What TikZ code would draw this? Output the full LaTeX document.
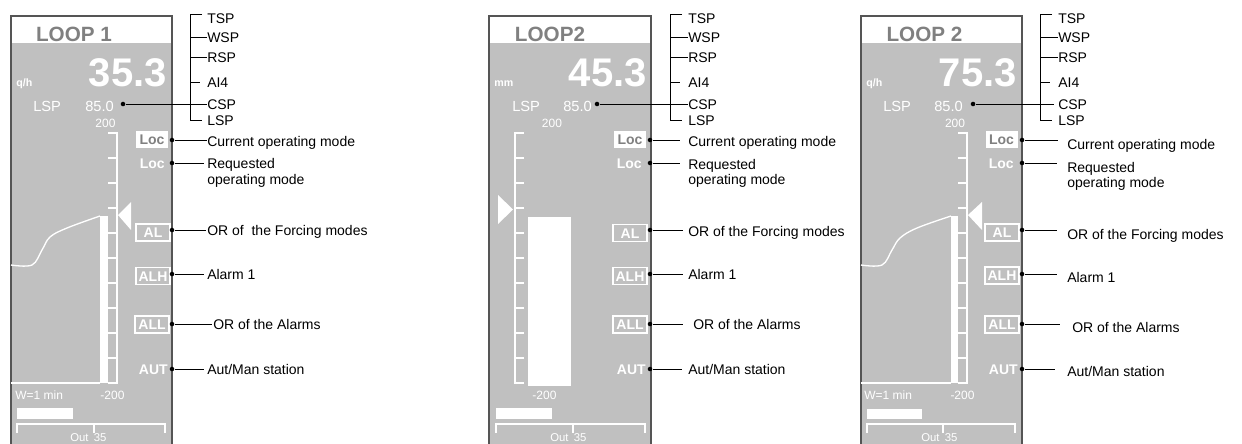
\documentclass[tikz,border=0pt]{standalone}
\usepackage{fontspec}
\setmainfont{Liberation Sans}
\definecolor{panelgray}{HTML}{C0C0C0}
\definecolor{titlegray}{HTML}{808080}
\definecolor{bordergray}{HTML}{555555}
\tikzset{
  panelborder/.style={draw=bordergray, line width=1pt},
  titletxt/.style={font=\fontsize{15.5}{18}\selectfont\bfseries, text=titlegray, inner sep=0pt},
  bignum/.style={font=\fontsize{30}{36}\selectfont\bfseries, text=white, anchor=east, inner sep=0pt},
  unittxt/.style={font=\fontsize{8}{10}\selectfont\bfseries, text=white, anchor=west, inner sep=0pt, text height=5.8pt, text depth=0pt},
  sptxt/.style={font=\fontsize{11}{13}\selectfont, text=white, anchor=west, inner sep=0pt, text height=7.9pt, text depth=0pt},
  smalltxt/.style={font=\fontsize{9}{11}\selectfont, text=white, inner sep=0pt, text height=6.5pt, text depth=0pt},
  outtxt/.style={font=\fontsize{8.5}{10}\selectfont, text=white, anchor=west, inner sep=0pt, text height=6.1pt, text depth=0pt},
  lbl/.style={font=\fontsize{10.5}{12}\selectfont, anchor=west, inner sep=0pt, text height=7.5pt, text depth=0pt},
  dotn/.style={circle, fill=black, inner sep=0pt, minimum size=3.4pt},
  conn/.style={draw=black, line width=0.75pt},
  brk/.style={draw=black, line width=0.75pt},
  locbox/.style={fill=white, inner sep=0pt, minimum width=24pt, minimum height=12.75pt, font=\fontsize{10.5}{12}\selectfont\bfseries, text=titlegray, text height=7.5pt, text depth=0pt},
  albox/.style={draw=white, line width=1.1pt, inner sep=0pt, minimum width=25.5pt, minimum height=12.75pt, font=\fontsize{10.5}{12}\selectfont\bfseries, text=white, text height=7.5pt, text depth=0pt},
  modetxt/.style={font=\fontsize{10.5}{12}\selectfont\bfseries, text=white, anchor=east, inner sep=0pt, text height=7.5pt, text depth=0pt},
  scaleline/.style={draw=white, line width=1.5pt},
  trendln/.style={draw=white, line width=1pt},
  thinw/.style={draw=white, line width=0.8pt},
}
\begin{document}
\begin{tikzpicture}[x=0.75pt,y=-0.75pt]
\useasboundingbox (0,0) rectangle (1242,443);

%================ PANEL 1 =================
\begin{scope}[shift={(11,0)}]
\fill[panelgray] (0,16) rectangle (161,445);
\fill[white] (0,16) rectangle (161,43);
\draw[panelborder] (0,445) -- (0,16) -- (161,16) -- (161,445);
\node[titletxt] (a-title) at (63,34) {LOOP 1};
\node[bignum] (a-pv) at (156,72.5) {35.3};
\node[unittxt] (a-unit) at (5,83) {q/h};
\node[sptxt] (a-lspt) at (22,106) {LSP};
\node[sptxt] (a-spv) at (74,106) {85.0};
\node[smalltxt] (a-max) at (94.5,123) {200};
% bar + scale
\fill[white] (89,216) rectangle (97,383);
\draw[scaleline] (97,133) -- (106,133) -- (106,383) -- (97,383);
\foreach \yy in {158,183,...,358} \draw[scaleline] (97,\yy) -- (106,\yy);
\fill[white] (107,215) -- (120,202) -- (120,230) -- cycle;
% trend
\draw[trendln] plot[smooth, tension=0.6] coordinates {(0,265) (21,265) (31,250) (39,237) (56,228) (89,216)};
\draw[trendln] (0,383) -- (89,383);
\node[smalltxt, anchor=west] (a-win) at (4,395) {W=1 min};
\node[smalltxt] (a-min) at (101.5,395) {-200};
\fill[white] (6,408) rectangle (62,419);
\draw[thinw] (6,433) -- (6,424) -- (154,424) -- (154,433);
\draw[thinw] (83,424) -- (83,433);
\node[outtxt] (a-out) at (59,437.5) {Out\hspace{4pt}35};
% mode boxes
\node[locbox] (a-loc) at (141,139.5) {Loc};
\node[modetxt] (a-loc2) at (154,163) {Loc};
\node[albox] (a-al) at (142,232.5) {AL};
\node[albox] (a-alh) at (142,276) {ALH};
\node[albox] (a-all) at (141,324.5) {ALL};
\node[modetxt] (a-aut) at (157,369) {AUT};
% dots
\node[dotn] (a-dcsp) at (112,104) {};
\node[dotn] (a-d1) at (161,140) {};
\node[dotn] (a-d2) at (161,163) {};
\node[dotn] (a-d3) at (161,230) {};
\node[dotn] (a-d4) at (161,274) {};
\node[dotn] (a-d5) at (161,324) {};
\node[dotn] (a-d6) at (161,369) {};
% setpoint list
\node[lbl] (a-tsp) at (196,18) {TSP};
\node[lbl] (a-wsp) at (196,37) {WSP};
\node[lbl] (a-rsp) at (196,57) {RSP};
\node[lbl] (a-ai4) at (196,82) {AI4};
\node[lbl] (a-csp) at (196,104) {CSP};
\node[lbl] (a-lsp) at (196,120) {LSP};
\draw[brk] (191,14) -- (179,14) -- (179,120) -- (191,120);
\draw[brk] (179,37) -- (a-wsp.west);
\draw[brk] (179,57) -- (a-rsp.west);
\draw[brk] (179,82) -- (189,82);
\draw[conn] (a-dcsp) -- (a-csp.west);
% right labels
\node[lbl] (a-cur) at (196,141) {Current operating mode};
\node[lbl] (a-req) at (196,163) {Requested};
\node[lbl] (a-req2) at (196,179) {operating mode};
\node[lbl] (a-frc) at (196,230) {OR of\ \ the Forcing modes};
\node[lbl] (a-al1) at (196,274) {Alarm 1};
\node[lbl] (a-ora) at (202,324) {OR of the Alarms};
\node[lbl] (a-am) at (196,369) {Aut/Man station};
\draw[conn] (a-d1) -- (a-d1 -| a-cur.west);
\draw[conn, shorten >=2pt] (a-d2) -- (a-d2 -| a-req.west);
\draw[conn, shorten >=1pt] (a-d3) -- (a-d3 -| a-frc.west);
\draw[conn, shorten >=2pt] (a-d4) -- (a-d4 -| a-al1.west);
\draw[conn, shorten >=1pt] (a-d5) -- (a-d5 -| a-ora.west);
\draw[conn, shorten >=2pt] (a-d6) -- (a-d6 -| a-am.west);
\end{scope}

%================ PANEL 2 =================
\begin{scope}[shift={(489,0)}]
\fill[panelgray] (0,16) rectangle (162,445);
\fill[white] (0,16) rectangle (162,43);
\draw[panelborder] (0,445) -- (0,16) -- (162,16) -- (162,445);
\node[titletxt] (b-title) at (61,34) {LOOP2};
\node[bignum] (b-pv) at (158,72.5) {45.3};
\node[unittxt] (b-unit) at (5,83) {mm};
\node[sptxt] (b-lspt) at (23,106) {LSP};
\node[sptxt] (b-spv) at (74,106) {85.0};
\node[smalltxt] (b-max) at (63,123) {200};
% scale + bar
\draw[scaleline] (35,133) -- (26,133) -- (26,383) -- (35,383);
\foreach \yy in {158,183,...,358} \draw[scaleline] (26,\yy) -- (35,\yy);
\fill[white] (39,217) rectangle (82,386);
\fill[white] (9,195) -- (24,209.5) -- (9,224) -- cycle;
\node[smalltxt] (b-min) at (55.5,395) {-200};
\fill[white] (7,408) rectangle (63,419);
\draw[thinw] (7,433) -- (7,424) -- (156,424) -- (156,433);
\draw[thinw] (84,424) -- (84,433);
\node[outtxt] (b-out) at (61,437.5) {Out\hspace{4pt}35};
% mode boxes
\node[locbox] (b-loc) at (141,139.5) {Loc};
\node[modetxt] (b-loc2) at (153,163) {Loc};
\node[albox] (b-al) at (141,233) {AL};
\node[albox] (b-alh) at (141,276) {ALH};
\node[albox] (b-all) at (141,324.5) {ALL};
\node[modetxt] (b-aut) at (157,369) {AUT};
% dots
\node[dotn] (b-dcsp) at (108,104) {};
\node[dotn] (b-d1) at (161,140) {};
\node[dotn] (b-d2) at (161,163) {};
\node[dotn] (b-d3) at (161,230) {};
\node[dotn] (b-d4) at (161,274) {};
\node[dotn] (b-d5) at (161,324) {};
\node[dotn] (b-d6) at (161,369) {};
% setpoint list
\node[lbl] (b-tsp) at (199,18) {TSP};
\node[lbl] (b-wsp) at (199,37) {WSP};
\node[lbl] (b-rsp) at (199,57) {RSP};
\node[lbl] (b-ai4) at (199,82) {AI4};
\node[lbl] (b-csp) at (199,104) {CSP};
\node[lbl] (b-lsp) at (199,120) {LSP};
\draw[brk] (193,14) -- (181,14) -- (181,120) -- (193,120);
\draw[brk] (181,37) -- (b-wsp.west);
\draw[brk] (181,57) -- (b-rsp.west);
\draw[brk] (181,82) -- (191,82);
\draw[conn] (b-dcsp) -- (b-csp.west);
% right labels
\node[lbl] (b-cur) at (199,141) {Current operating mode};
\node[lbl] (b-req) at (199,164) {Requested};
\node[lbl] (b-req2) at (199,179) {operating mode};
\node[lbl] (b-frc) at (199,231) {OR of the Forcing modes};
\node[lbl] (b-al1) at (199,274) {Alarm 1};
\node[lbl] (b-ora) at (204,324) {OR of the Alarms};
\node[lbl] (b-am) at (199,369) {Aut/Man station};
\draw[conn, shorten >=6pt] (b-d1) -- (b-d1 -| b-cur.west);
\draw[conn, shorten >=6pt] (b-d2) -- (b-d2 -| b-req.west);
\draw[conn, shorten >=4pt] (b-d3) -- (b-d3 -| b-frc.west);
\draw[conn, shorten >=4pt] (b-d4) -- (b-d4 -| b-al1.west);
\draw[conn, shorten >=7.5pt] (b-d5) -- (b-d5 -| b-ora.west);
\draw[conn, shorten >=4.5pt] (b-d6) -- (b-d6 -| b-am.west);
\end{scope}

%================ PANEL 3 =================
\begin{scope}[shift={(861,0)}]
\fill[panelgray] (0,16) rectangle (161,445);
\fill[white] (0,16) rectangle (161,43);
\draw[panelborder] (0,445) -- (0,16) -- (161,16) -- (161,445);
\node[titletxt] (c-title) at (63.5,34) {LOOP 2};
\node[bignum] (c-pv) at (156,72.5) {75.3};
\node[unittxt] (c-unit) at (5,83) {q/h};
\node[sptxt] (c-lspt) at (22,106) {LSP};
\node[sptxt] (c-spv) at (73,106) {85.0};
\node[smalltxt] (c-max) at (94,123) {200};
% bar + scale
\fill[white] (90,216) rectangle (97,383);
\draw[scaleline] (97,133) -- (106,133) -- (106,383) -- (97,383);
\foreach \yy in {158,183,...,358} \draw[scaleline] (97,\yy) -- (106,\yy);
\fill[white] (107,215) -- (121,202) -- (121,230) -- cycle;
% trend
\draw[trendln] plot[smooth, tension=0.6] coordinates {(0,265) (21,265) (31,250) (39,238) (56,228) (90,216)};
\draw[trendln] (0,383) -- (90,383);
\node[smalltxt, anchor=west] (c-win) at (3,395) {W=1 min};
\node[smalltxt] (c-min) at (101.5,395) {-200};
\fill[white] (6,409) rectangle (61,419);
\draw[thinw] (6,433) -- (6,424) -- (154,424) -- (154,433);
\draw[thinw] (82,424) -- (82,433);
\node[outtxt] (c-out) at (60,437.5) {Out\hspace{4pt}35};
% mode boxes
\node[locbox] (c-loc) at (140.5,139.5) {Loc};
\node[modetxt] (c-loc2) at (153,163) {Loc};
\node[albox] (c-al) at (141,232.5) {AL};
\node[albox] (c-alh) at (141,275.5) {ALH};
\node[albox] (c-all) at (141,324.5) {ALL};
\node[modetxt] (c-aut) at (157,369) {AUT};
% dots
\node[dotn] (c-dcsp) at (112,104) {};
\node[dotn] (c-d1) at (161,140) {};
\node[dotn] (c-d2) at (161,163) {};
\node[dotn] (c-d3) at (161,230) {};
\node[dotn] (c-d4) at (161,274) {};
\node[dotn] (c-d5) at (161,324) {};
\node[dotn] (c-d6) at (161,369) {};
% setpoint list
\node[lbl] (c-tsp) at (197,18) {TSP};
\node[lbl] (c-wsp) at (197,37) {WSP};
\node[lbl] (c-rsp) at (197,57) {RSP};
\node[lbl] (c-ai4) at (197,82) {AI4};
\node[lbl] (c-csp) at (197,104) {CSP};
\node[lbl] (c-lsp) at (197,120) {LSP};
\draw[brk] (191,14) -- (179,14) -- (179,120) -- (191,120);
\draw[brk] (179,37) -- (c-wsp.west);
\draw[brk] (179,57) -- (c-rsp.west);
\draw[brk] (179,82) -- (189,82);
\draw[conn, shorten >=3pt] (c-dcsp) -- (c-csp.west);
% right labels
\node[lbl] (c-cur) at (206,144) {Current operating mode};
\node[lbl] (c-req) at (206,167) {Requested};
\node[lbl] (c-req2) at (206,182) {operating mode};
\node[lbl] (c-frc) at (206,234) {OR of the Forcing modes};
\node[lbl] (c-al1) at (206,277) {Alarm 1};
\node[lbl] (c-ora) at (211,327) {OR of the Alarms};
\node[lbl] (c-am) at (206,371) {Aut/Man station};
\draw[conn, shorten >=7pt] (c-d1) -- (c-d1 -| c-cur.west);
\draw[conn, shorten >=7.5pt] (c-d2) -- (c-d2 -| c-req.west);
\draw[conn, shorten >=7.5pt] (c-d3) -- (c-d3 -| c-frc.west);
\draw[conn, shorten >=7.5pt] (c-d4) -- (c-d4 -| c-al1.west);
\draw[conn, shorten >=9pt] (c-d5) -- (c-d5 -| c-ora.west);
\draw[conn, shorten >=9pt] (c-d6) -- (c-d6 -| c-am.west);
\end{scope}
\end{tikzpicture}
\end{document}
